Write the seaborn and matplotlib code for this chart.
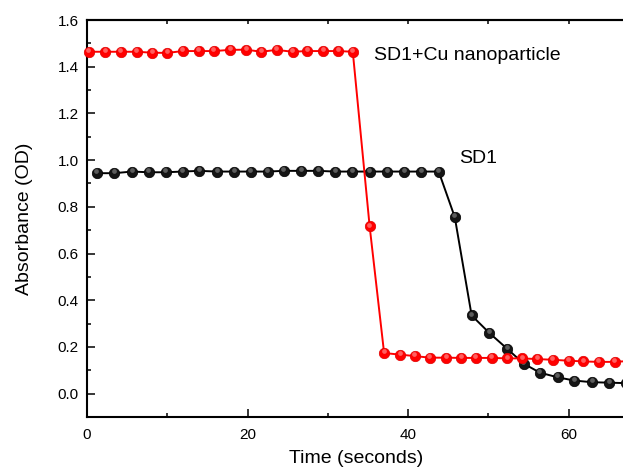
import numpy as np
import pandas as pd
import seaborn as sns
import matplotlib.pyplot as plt
import matplotlib.transforms as mtransforms

# SD1 + Cu nanoparticle (red)
cu_time = [0.2, 2.3, 4.2, 6.2, 8.1, 10.0, 11.9, 13.9, 15.8, 17.8, 19.8, 21.7, 23.6, 25.6, 27.4, 29.4, 31.3, 33.1,
           35.2, 37.0, 39.0, 40.8, 42.7, 44.7, 46.6, 48.4, 50.4, 52.3, 54.2, 56.1, 58.0, 60.0, 61.8, 63.7, 65.7, 67.6]
cu_abs = [1.464, 1.464, 1.464, 1.464, 1.460, 1.459, 1.467, 1.467, 1.467, 1.472, 1.473, 1.464, 1.472, 1.464, 1.467, 1.467, 1.467, 1.464,
          0.716, 0.174, 0.167, 0.161, 0.154, 0.154, 0.153, 0.153, 0.153, 0.151, 0.151, 0.148, 0.145, 0.141, 0.138, 0.136, 0.136, 0.140]

# SD1 (black)
sd1_time = [1.2, 3.4, 5.6, 7.7, 9.8, 11.9, 14.0, 16.2, 18.3, 20.4, 22.5, 24.5, 26.7, 28.8,
            30.9, 33.0, 35.2, 37.4, 39.5, 41.6, 43.8,
            45.8, 47.9, 50.1, 52.3, 54.4, 56.4, 58.6, 60.7, 62.9, 65.0, 67.1]
sd1_abs = [0.944, 0.944, 0.951, 0.948, 0.948, 0.951, 0.954, 0.951, 0.951, 0.951, 0.951, 0.954, 0.954, 0.954,
           0.951, 0.951, 0.951, 0.951, 0.951, 0.951, 0.951,
           0.756, 0.335, 0.260, 0.193, 0.128, 0.090, 0.070, 0.056, 0.049, 0.047, 0.045]

sns.set_style('ticks')
plt.rcParams['font.family'] = ['Liberation Sans', 'DejaVu Sans']
plt.rcParams['text.color'] = 'black'
plt.rcParams['axes.labelcolor'] = 'black'

fig = plt.figure(figsize=(6.23, 4.71), dpi=100)
ax = fig.add_axes([87/623, 54/471, 538/623, 397/471])

# small offset highlight gives the markers their shaded "ball" look
shine = mtransforms.offset_copy(ax.transData, fig=fig, x=-0.3, y=1.3, units='points')

sns.lineplot(x=sd1_time, y=sd1_abs, color='black', lw=1.4, marker='o', markersize=7.5,
             markerfacecolor='#151515', markeredgecolor='black', markeredgewidth=0.5,
             estimator=None, ax=ax, clip_on=False, zorder=3)
ax.plot(sd1_time, sd1_abs, 'o', ms=3.4, color='#9a9a9a', alpha=0.55, mew=0,
        transform=shine, clip_on=False, zorder=4)

sns.lineplot(x=cu_time, y=cu_abs, color='#ff0000', lw=1.4, marker='o', markersize=7.5,
             markerfacecolor='#ff0000', markeredgecolor='#e00000', markeredgewidth=0.5,
             estimator=None, ax=ax, clip_on=False, zorder=5)
ax.plot(cu_time, cu_abs, 'o', ms=3.4, color='#ffa0a0', alpha=0.6, mew=0,
        transform=shine, clip_on=False, zorder=6)

ax.set_xlim(0, 67)
ax.set_ylim(-0.1, 1.6)
ax.set_xticks([0, 20, 40, 60])
ax.set_xticks([10, 30, 50], minor=True)
ax.set_yticks(np.arange(0, 1.61, 0.2))
ax.set_yticks(np.arange(0.1, 1.6, 0.2), minor=True)
ax.yaxis.set_major_formatter('{x:.1f}')
ax.tick_params(which='major', direction='in', length=6, width=1.1, labelsize=11, pad=6, colors='black')
ax.tick_params(which='minor', direction='in', length=3, width=1.1, colors='black')
ax.tick_params(axis='x', pad=8)

for s in ax.spines.values():
    s.set_linewidth(1.5)
    s.set_color('black')

top = ax.secondary_xaxis('top')
top.set_xticks([10, 20, 30, 40, 50, 60])
top.tick_params(direction='in', length=3, width=1.1, labeltop=False, colors='black')
top.spines['top'].set_linewidth(1.5)
top.spines['top'].set_color('black')

ax.text(35.7, 1.446, 'SD1+Cu nanoparticle', fontsize=14, va='center', color='black')
ax.text(46.3, 1.005, 'SD1', fontsize=14, va='center', color='black')

ax.set_xlabel('Time (seconds)', fontsize=14, labelpad=6)
ax.set_ylabel('Absorbance (OD)', fontsize=14)
ax.yaxis.set_label_coords(-0.1, 0.5)

fig.savefig('out.png', dpi=100)
